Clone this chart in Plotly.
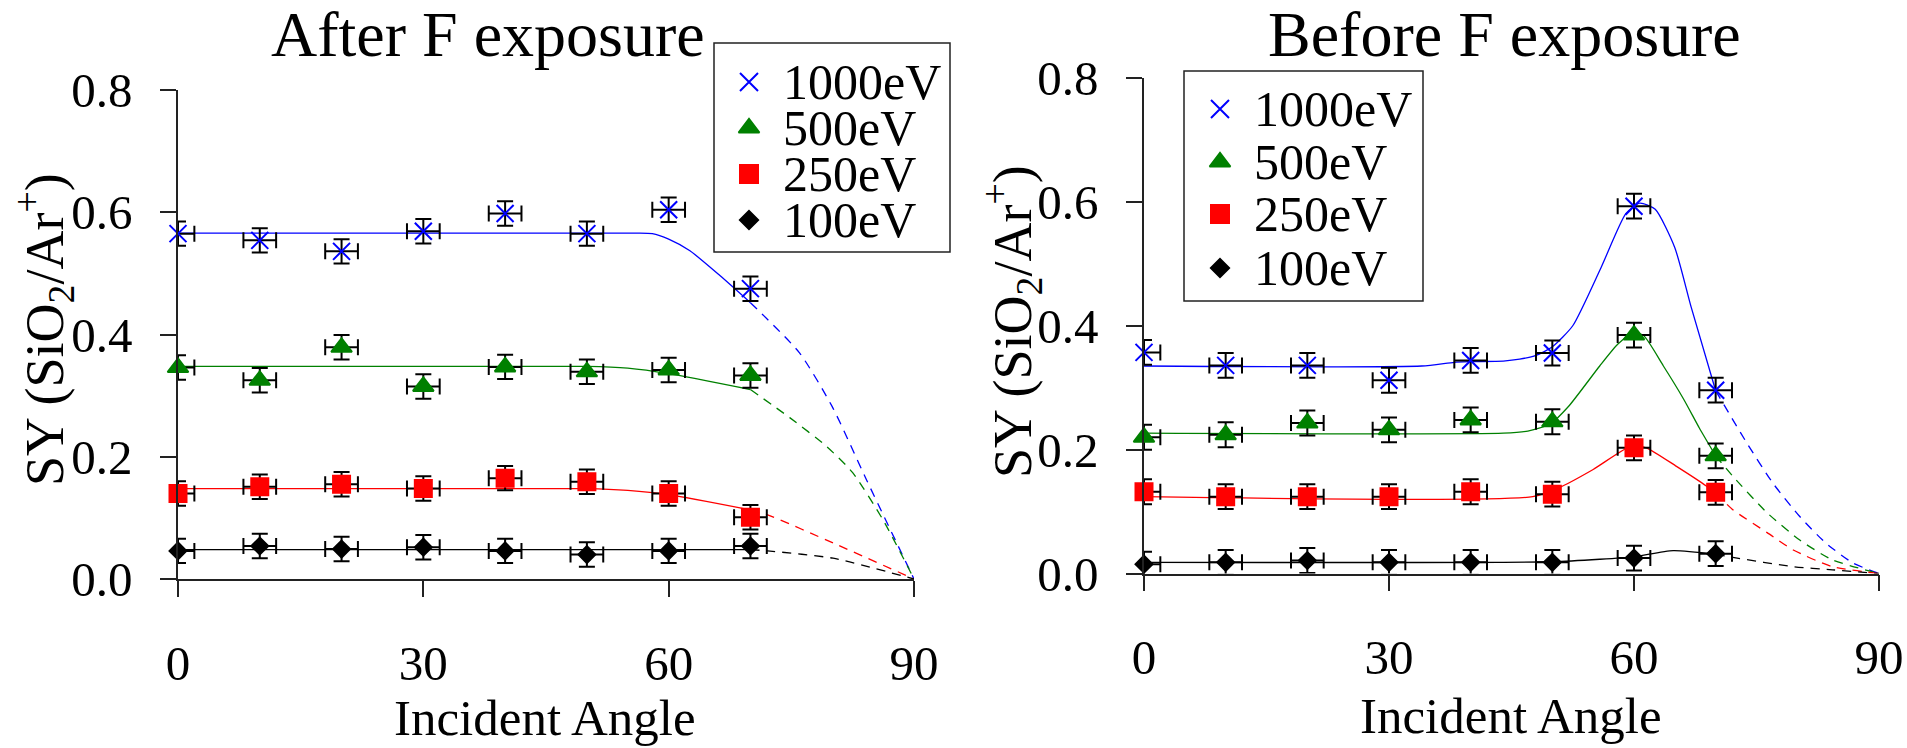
import plotly.graph_objects as go

# ---------------------------------------------------------------- data
angles = [0, 10, 20, 30, 40, 50, 60, 70]
energy_labels = ["1000eV", "500eV", "250eV", "100eV"]

# sputter yield SiO2/Ar+ after F exposure
after_1000 = [0.565, 0.554, 0.536, 0.569, 0.598, 0.565, 0.604, 0.475]
after_500 = [0.346, 0.325, 0.379, 0.315, 0.347, 0.339, 0.342, 0.333]
after_250 = [0.140, 0.151, 0.155, 0.148, 0.165, 0.159, 0.140, 0.101]
after_100 = [0.046, 0.054, 0.049, 0.052, 0.046, 0.040, 0.046, 0.054]

# sputter yield SiO2/Ar+ before F exposure
before_1000 = [0.357, 0.336, 0.336, 0.312, 0.344, 0.356, 0.593, 0.296]
before_500 = [0.220, 0.224, 0.243, 0.232, 0.248, 0.245, 0.385, 0.190]
before_250 = [0.132, 0.124, 0.124, 0.124, 0.132, 0.128, 0.203, 0.131]
before_100 = [0.015, 0.018, 0.021, 0.018, 0.018, 0.018, 0.025, 0.032]

# uncertainties
angle_err = [2, 2, 2, 2, 2, 2, 2, 2]
yield_err = [0.02, 0.02, 0.02, 0.02, 0.02, 0.02, 0.02, 0.02]

# fitted curves (solid up to 70 deg, dashed extrapolation to 90 deg)
fit_after_1000_x = [0, 56, 58, 60, 62.6, 66.3, 70]
fit_after_1000_y = [0.566, 0.566, 0.565, 0.556, 0.537, 0.496, 0.452]
ext_after_1000_x = [70, 76, 80, 84.2, 90]
ext_after_1000_y = [0.452, 0.37, 0.282, 0.162, 0.0]

fit_after_500_x = [0, 50, 55, 60, 70]
fit_after_500_y = [0.348, 0.348, 0.345, 0.336, 0.31]
ext_after_500_x = [70, 74.8, 79.3, 82.5, 86.2, 90]
ext_after_500_y = [0.31, 0.264, 0.217, 0.174, 0.097, 0.0]

fit_after_250_x = [0, 50, 55, 60, 70]
fit_after_250_y = [0.148, 0.148, 0.145, 0.138, 0.113]
ext_after_250_x = [70, 72.1, 80.1, 90]
ext_after_250_y = [0.113, 0.105, 0.059, 0.0]

fit_after_100_x = [0, 70]
fit_after_100_y = [0.048, 0.048]
ext_after_100_x = [70, 72.1, 80.1, 90]
ext_after_100_y = [0.048, 0.046, 0.034, 0.0]

fit_before_1000_x = [0, 34, 38, 40, 44, 46, 48, 50, 52.5, 56, 59, 60.7, 62.6, 65, 67, 70]
fit_before_1000_y = [0.335, 0.335, 0.341, 0.342, 0.343, 0.346, 0.352, 0.366, 0.40, 0.495,
                     0.581, 0.598, 0.588, 0.526, 0.43, 0.295]
ext_before_1000_x = [70, 73.8, 77, 80.3, 83.5, 86.8, 90]
ext_before_1000_y = [0.295, 0.211, 0.146, 0.092, 0.049, 0.017, 0.0]

fit_before_500_x = [0, 44, 47, 49.7, 52, 55.8, 58, 59.7, 61.1, 63.6, 66.1, 68, 70]
fit_before_500_y = [0.2266, 0.2266, 0.23, 0.241, 0.27, 0.335, 0.37, 0.387, 0.385, 0.335,
                    0.281, 0.235, 0.19]
ext_before_500_x = [70, 72.1, 76.3, 80.3, 84.3, 90]
ext_before_500_y = [0.19, 0.157, 0.098, 0.054, 0.022, 0.0]

fit_before_250_x = [0, 47.6, 50.9, 55, 59.7, 61.5, 65.2, 68.9, 70]
fit_before_250_y = [0.124, 0.124, 0.139, 0.168, 0.206, 0.203, 0.173, 0.141, 0.13]
ext_before_250_x = [70, 72.1, 76.3, 79.5, 84.3, 90]
ext_before_250_y = [0.13, 0.103, 0.066, 0.038, 0.011, 0.0]

fit_before_100_x = [0, 50, 55.8, 59.9, 64.8, 70]
fit_before_100_y = [0.018, 0.019, 0.023, 0.027, 0.037, 0.031]
ext_before_100_x = [70, 72.1, 79.5, 84.3, 90]
ext_before_100_y = [0.031, 0.026, 0.011, 0.006, 0.0]

y_ticks = [0.0, 0.2, 0.4, 0.6, 0.8]
x_ticks = [0, 30, 60, 90]

# ---------------------------------------------------------------- style
FONT = "Liberation Serif"
colors = ["#0000ff", "#008000", "#ff0000", "#000000"]
symbols = ["x-thin", "triangle-up", "square", "diamond"]
sizes = [17, 18, 17, 13]
W, H = 1907, 748

fig = go.Figure()

panels = [
    ("x", "y",
     [after_1000, after_500, after_250, after_100],
     [(fit_after_1000_x, fit_after_1000_y, ext_after_1000_x, ext_after_1000_y),
      (fit_after_500_x, fit_after_500_y, ext_after_500_x, ext_after_500_y),
      (fit_after_250_x, fit_after_250_y, ext_after_250_x, ext_after_250_y),
      (fit_after_100_x, fit_after_100_y, ext_after_100_x, ext_after_100_y)]),
    ("x2", "y2",
     [before_1000, before_500, before_250, before_100],
     [(fit_before_1000_x, fit_before_1000_y, ext_before_1000_x, ext_before_1000_y),
      (fit_before_500_x, fit_before_500_y, ext_before_500_x, ext_before_500_y),
      (fit_before_250_x, fit_before_250_y, ext_before_250_x, ext_before_250_y),
      (fit_before_100_x, fit_before_100_y, ext_before_100_x, ext_before_100_y)]),
]

for xa, ya, series, fits in panels:
    # fitted curves underneath the measurements
    for c, (fx, fy, ex, ey) in zip(colors, fits):
        fig.add_trace(go.Scatter(x=fx, y=fy, xaxis=xa, yaxis=ya, mode="lines",
                                 line=dict(color=c, width=1.3, shape="spline", smoothing=0.6),
                                 showlegend=False, cliponaxis=False, hoverinfo="skip"))
        fig.add_trace(go.Scatter(x=ex, y=ey, xaxis=xa, yaxis=ya, mode="lines",
                                 line=dict(color=c, width=1.3, shape="spline", smoothing=0.6,
                                           dash="9px,7px"),
                                 showlegend=False, cliponaxis=False, hoverinfo="skip"))
    for c, s, sz, vals, name in zip(colors, symbols, sizes, series, energy_labels):
        fig.add_trace(go.Scatter(
            x=angles, y=vals, xaxis=xa, yaxis=ya, mode="markers", name=name,
            marker=dict(symbol=s, size=sz, color=c, line=dict(color=c, width=2)),
            error_x=dict(type="data", array=angle_err, color="#000", thickness=2, width=8),
            error_y=dict(type="data", array=yield_err, color="#000", thickness=2, width=8),
            showlegend=False, cliponaxis=False))

# ---------------------------------------------------------------- legends
# a full-page pixel frame (x3/y3) used for the legend boxes and labels
legend_specs = [
    # box (x0, y0, x1, y1), glyph x, text x, row centres
    ((714, 43, 950, 252), 749, 781, [82, 128, 174, 220]),
    ((1184, 71, 1423, 301), 1220, 1252, [109, 162, 214, 268]),
]
legend_sizes = [18, 18, 18, 14]
for (bx0, by0, bx1, by1), gx, tx, rows in legend_specs:
    fig.add_shape(type="rect", xref="x3", yref="y3", x0=bx0, y0=by0, x1=bx1, y1=by1,
                  line=dict(color="#222", width=1.5), fillcolor="rgba(0,0,0,0)")
    for c, s, sz, name, ry in zip(colors, symbols, legend_sizes, energy_labels, rows):
        fig.add_trace(go.Scatter(x=[gx], y=[ry], xaxis="x3", yaxis="y3", mode="markers",
                                 marker=dict(symbol=s, size=sz, color=c,
                                             line=dict(color=c, width=2)),
                                 showlegend=False, cliponaxis=False, hoverinfo="skip"))
        fig.add_annotation(x=tx, y=ry, xref="x3", yref="y3", text=name, showarrow=False,
                           xanchor="left", yanchor="middle",
                           font=dict(family=FONT, size=50, color="#000"))

# titles and axis labels
texts = [
    ("After F exposure", 488, 34, 64, 0),
    ("Before F exposure", 1504, 34, 64, 0),
    ("Incident Angle", 545, 718, 51, 0),
    ("Incident Angle", 1511, 716, 51, 0),
    ("SY (SiO<sub>2</sub>/Ar<sup>+</sup>)", 44, 330, 54, -90),
    ("SY (SiO<sub>2</sub>/Ar<sup>+</sup>)", 1012, 322, 54, -90),
]
for t, tx, ty, fs, ang in texts:
    fig.add_annotation(x=tx, y=ty, xref="x3", yref="y3", text=t, showarrow=False,
                       xanchor="center", yanchor="middle", textangle=ang,
                       font=dict(family=FONT, size=fs, color="#000"))

# ---------------------------------------------------------------- axes
axis_common = dict(showline=True, linecolor="#222", linewidth=1.5, ticks="outside",
                   ticklen=16, tickwidth=1.5, tickcolor="#222", showgrid=False,
                   zeroline=False, automargin=False,
                   tickfont=dict(family=FONT, size=49, color="#000"))

fig.update_layout(
    width=W, height=H,
    margin=dict(l=0, r=0, t=0, b=0, pad=0, autoexpand=False),
    paper_bgcolor="white", plot_bgcolor="rgba(0,0,0,0)", showlegend=False,
    xaxis=dict(domain=[178 / W, 914 / W], range=[0, 90], tickvals=x_ticks,
               anchor="y", ticklabelstandoff=24, **axis_common),
    yaxis=dict(domain=[(H - 579) / H, (H - 90) / H], range=[0, 0.8], tickvals=y_ticks,
               tickformat=".1f", anchor="x", ticklabelstandoff=18, **axis_common),
    xaxis2=dict(domain=[1144 / W, 1879 / W], range=[0, 90], tickvals=x_ticks,
                anchor="y2", ticklabelstandoff=24, **axis_common),
    yaxis2=dict(domain=[(H - 573.5) / H, (H - 78) / H], range=[0, 0.8], tickvals=y_ticks,
                tickformat=".1f", anchor="x2", ticklabelstandoff=18, **axis_common),
    xaxis3=dict(domain=[0, 1], range=[0, W], visible=False, anchor="y3",
                fixedrange=True, automargin=False),
    yaxis3=dict(domain=[0, 1], range=[H, 0], visible=False, anchor="x3",
                fixedrange=True, automargin=False),
)

fig.write_html("out.html")
